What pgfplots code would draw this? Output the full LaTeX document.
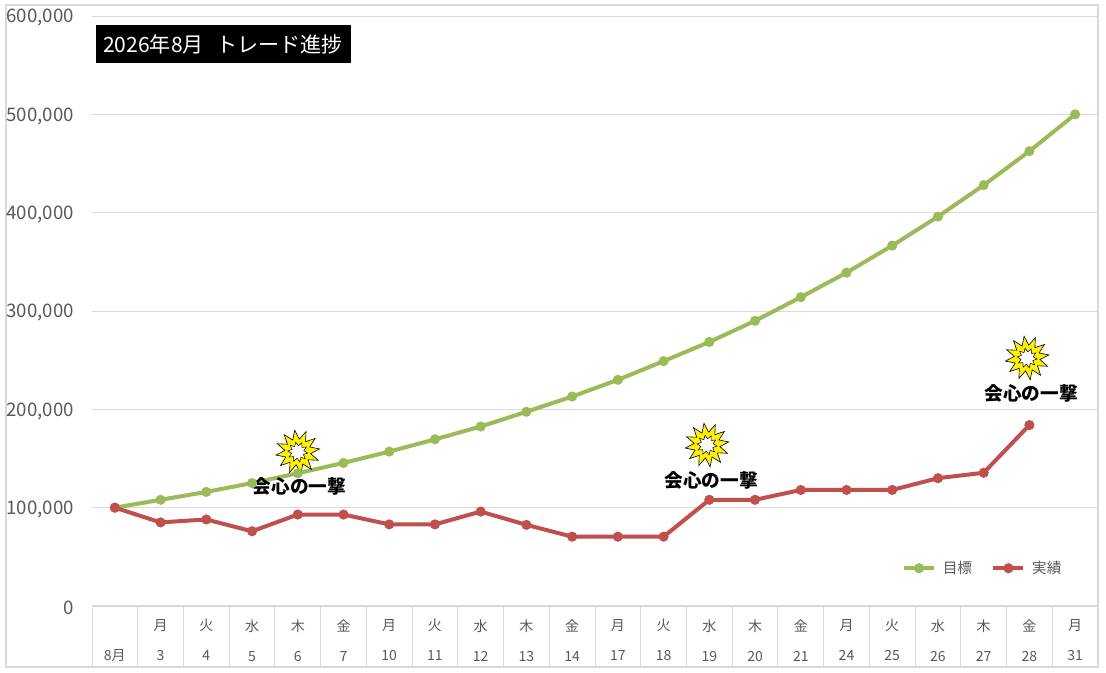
\documentclass[border=0pt]{standalone}
\usepackage{fontspec}
\usepackage{pgfplots}
\pgfplotsset{compat=1.18}
\usetikzlibrary{shapes.geometric}
\setmainfont{Noto Sans CJK JP}
\definecolor{gridc}{HTML}{D9D9D9}
\definecolor{textc}{HTML}{595959}
\definecolor{goalc}{HTML}{9BBB59}
\definecolor{realc}{HTML}{C0504D}
\newcommand{\cell}[2]{\strut#1\\[10.5pt]\strut#2}
\newcommand{\burst}[2]{%
  \node[star,star points=12,star point ratio=1.7,minimum size=33pt,inner sep=0pt,rotate=8,
    draw=black,line width=0.45pt,fill=yellow] at (axis cs:#1,#2) {};
  \node[star,star points=10,star point ratio=1.6,minimum size=15pt,inner sep=0pt,rotate=12,
    draw=black,line width=0.4pt,fill=white] at (axis cs:#1,#2) {};}
\newcommand{\hit}[2]{\node[font=\fontsize{14}{16}\selectfont\bfseries,text=black,inner sep=0pt] at (axis cs:#1,#2) {会心の一撃};}
\begin{document}
\begin{tikzpicture}
\begin{scope}[x=0.75pt,y=0.75pt]
\fill[white] (-92,-67) rectangle (1014,606);
\draw[gridc,line width=0.9pt] (-86,-61) rectangle (1006,601);
\end{scope}
\begin{axis}[
    scale only axis,
    width=754.5pt, height=442.5pt,
    xmin=0, xmax=22,
    ymin=0, ymax=600000,
    axis x line*=bottom,
    axis y line*=left,
    x axis line style={gridc,line width=0.9pt},
    y axis line style={draw=none},
    ytick={100000,200000,300000,400000,500000,600000},
    yticklabels={},
    scaled y ticks=false,
    ymajorgrids=true,
    grid style={gridc,line width=0.6pt},
    xtick={0.5,1.5,...,21.5},
    xticklabels={\cell{}{8月},\cell{月}{3},\cell{火}{4},\cell{水}{5},\cell{木}{6},\cell{金}{7},\cell{月}{10},\cell{火}{11},\cell{水}{12},\cell{木}{13},\cell{金}{14},\cell{月}{17},\cell{火}{18},\cell{水}{19},\cell{木}{20},\cell{金}{21},\cell{月}{24},\cell{火}{25},\cell{水}{26},\cell{木}{27},\cell{金}{28},\cell{月}{31}},
    minor xtick={0,1,...,22},
    major tick length=0pt,
    minor tick length=46pt,
    tick align=outside,
    minor tick style={gridc,line width=0.7pt},
    xticklabel style={font=\fontsize{10.5}{12}\selectfont,text=textc,align=center,yshift=-6.5pt},
    clip=false,
    legend columns=2,
    legend style={at={(axis description cs:0.805,0.064)},anchor=west,draw=none,fill=none,
      font=\fontsize{11}{12}\selectfont,text=textc,inner sep=0pt,
      /tikz/every odd column/.append style={column sep=3pt},
      /tikz/every even column/.append style={column sep=12.5pt}},
    legend image code/.code={\draw[mark repeat=2,mark phase=2,#1] plot coordinates {(0pt,0pt)(11.25pt,0pt)(22.5pt,0pt)};},
]
\addplot[color=goalc,line width=3pt,mark=*,mark size=2.2pt,mark options={solid}] coordinates {
(0.5,100000)(1.5,108000)(2.5,116000)(3.5,125000)(4.5,135000)(5.5,145500)(6.5,157000)(7.5,169500)(8.5,182500)(9.5,197500)(10.5,213000)(11.5,230000)(12.5,249000)(13.5,268500)(14.5,290000)(15.5,314000)(16.5,339000)(17.5,366500)(18.5,396000)(19.5,428000)(20.5,462500)(21.5,500000)
};
\addlegendentry{目標}
\addplot[color=realc,line width=3pt,mark=*,mark size=2.2pt,mark options={solid}] coordinates {
(0.5,100000)(1.5,85000)(2.5,88000)(3.5,76000)(4.5,93000)(5.5,93000)(6.5,83000)(7.5,83000)(8.5,96000)(9.5,82500)(10.5,70500)(11.5,70500)(12.5,70500)(13.5,108000)(14.5,108000)(15.5,118000)(16.5,118000)(17.5,118000)(18.5,130000)(19.5,135500)(20.5,184000)
};
\addlegendentry{実績}
\burst{4.5}{156600}
\burst{13.45}{163700}
\burst{20.45}{252200}
\hit{4.54}{122000}
\hit{13.54}{128000}
\hit{20.54}{216000}
\end{axis}
\begin{scope}[x=0.75pt,y=0.75pt]
\fill[black] (4,543) rectangle (259,581);
\node[text=white,font=\fontsize{15.8}{18}\selectfont,inner sep=0pt] at (131,562) {2026年8月\hspace{0.6em}トレード進捗};
\foreach \v/\t in {0/0,98.33/100,196.67/200,295/300,393.33/400,491.67/500,590/600}{
  \node[anchor=east,text=textc,font=\fontsize{14}{16}\selectfont,inner sep=0pt] at (-18,\v-2) {\ifnum\t=0 0\else\t,000\fi};}
\end{scope}
\end{tikzpicture}
\end{document}
